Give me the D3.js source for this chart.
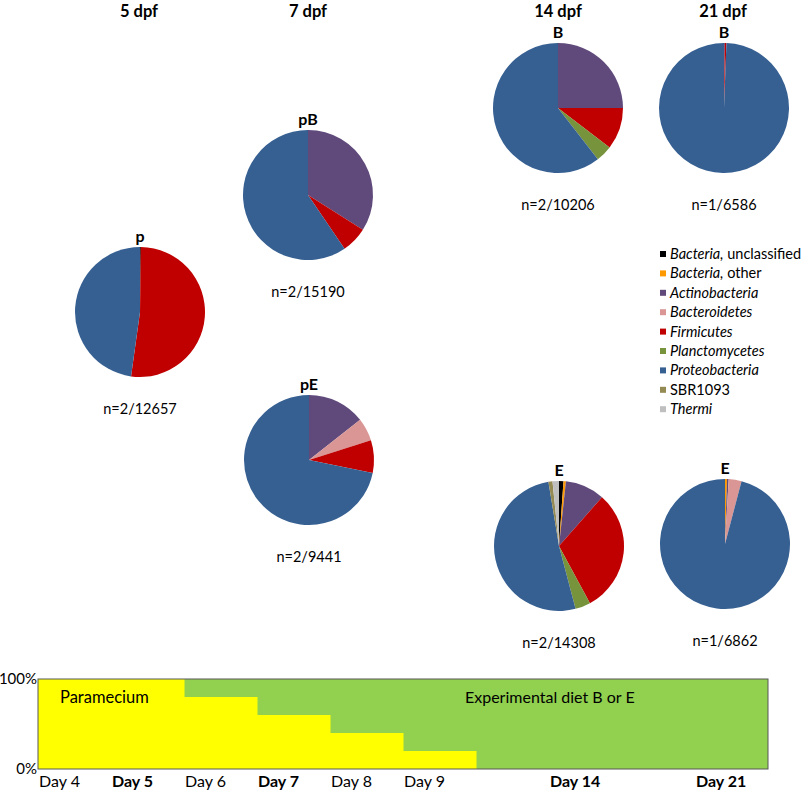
<!DOCTYPE html>
<html>
<head>
<meta charset="utf-8">
<script src="https://cdn.jsdelivr.net/npm/d3@7"></script>
<style>
  body { margin: 0; background: #fff; }
  text { font-family: Lato, "Open Sans", sans-serif; fill: #000; }
</style>
</head>
<body>
<script>
let width = 808
let height = 791

// phyla, in legend order (clockwise in each pie)
let taxa = ['Bacteria, unclassified', 'Bacteria, other', 'Actinobacteria', 'Bacteroidetes',
    'Firmicutes', 'Planctomycetes', 'Proteobacteria', 'SBR1093', 'Thermi']
let taxaColors = ['#000000', '#ff9900', '#604a7b', '#d99694', '#c00000', '#77933c', '#376092', '#948a54', '#bfbfbf']

// percentages per sample, same order as taxa
let sampleNames = ['p', 'pB', 'pE', 'B', 'B', 'E', 'E']
let sampleN = ['n=2/12657', 'n=2/15190', 'n=2/9441', 'n=2/10206', 'n=1/6586', 'n=2/14308', 'n=1/6862']
let p_values = [0.2, 0, 0, 0, 52, 0, 47.8, 0, 0]
let pB_values = [0, 0, 34, 0, 6.5, 0, 59.5, 0, 0]
let pE_values = [0, 0, 14.4, 5.7, 8.1, 0, 71.8, 0, 0]
let B14_values = [0, 0, 25, 0, 10.4, 4.1, 60.5, 0, 0]
let B21_values = [0, 0, 0.2, 0, 0.4, 0, 99.4, 0, 0]
let E14_values = [1.1, 0.6, 9.8, 0, 30.6, 3.8, 51.5, 1.0, 1.6]
let E21_values = [0, 0.5, 0.4, 3.2, 0, 0, 95.9, 0, 0]
let sampleValues = [p_values, pB_values, pE_values, B14_values, B21_values, E14_values, E21_values]
// pie centres on the page
let sampleX = [140, 308, 309, 558, 724, 559, 725]
let sampleY = [312, 195, 460, 108, 108, 546, 544]

let dpfLabels = ['5 dpf', '7 dpf', '14 dpf', '21 dpf']
let dpfX = [139, 308, 558, 723]

// feeding regime
let days = ['Day 4', 'Day 5', 'Day 6', 'Day 7', 'Day 8', 'Day 9', '', 'Day 14', '', 'Day 21']
let boldDays = ['Day 5', 'Day 7', 'Day 14', 'Day 21']
let paramecium = [100, 100, 80, 60, 40, 20, 0, 0, 0, 0]

let svg = d3.select('body').append('svg')
    .attr('width', width)
    .attr('height', height)

let radius = 65
let pie = d3.pie().sort(null).value(d => d)
let arc = d3.arc().innerRadius(0).outerRadius(radius)

svg.selectAll('text.dpf')
    .data(dpfLabels)
    .enter().append('text')
    .attr('class', 'dpf')
    .attr('x', (d, i) => dpfX[i])
    .attr('y', 17)
    .attr('text-anchor', 'middle')
    .style('font-weight', 'bold')
    .style('font-size', '16.5px')
    .text(d => d)

sampleValues.forEach((vals, s) => {
    let g = svg.append('g')
        .attr('transform', `translate(${sampleX[s]},${sampleY[s]})`)
    g.selectAll('path')
        .data(pie(vals))
        .enter().append('path')
        .attr('d', arc)
        .attr('fill', (d, i) => taxaColors[i])
    g.append('text')
        .attr('y', -radius - 5)
        .attr('text-anchor', 'middle')
        .style('font-weight', 'bold')
        .style('font-size', '16px')
        .text(sampleNames[s])
    g.append('text')
        .attr('y', radius + 37)
        .attr('text-anchor', 'middle')
        .style('font-size', '14.5px')
        .text(sampleN[s])
})

// legend
let legend = svg.append('g').attr('transform', 'translate(663,254)')
let items = legend.selectAll('g')
    .data(taxa)
    .enter().append('g')
    .attr('transform', (d, i) => `translate(0,${i * 19.4})`)
items.append('rect')
    .attr('x', -3).attr('y', -3)
    .attr('width', 6).attr('height', 6)
    .attr('fill', (d, i) => taxaColors[i])
items.append('text')
    .attr('x', 7)
    .attr('dy', '0.35em')
    .style('font-size', '14.5px')
    .each(function(d) {
        let t = d3.select(this)
        let parts = d.split(', ')
        if (d == 'SBR1093') {
            t.text(d)
        } else if (parts.length > 1) {
            t.append('tspan').style('font-style', 'italic').text(parts[0] + ',')
            t.append('tspan').text(' ' + parts[1])
        } else {
            t.append('tspan').style('font-style', 'italic').text(d)
        }
    })

// feeding bar chart
let plotLeft = 38, plotRight = 768, plotTop = 679, plotBottom = 769
let x = d3.scaleBand()
    .domain(d3.range(days.length))
    .range([plotLeft, plotRight])
    .padding(0)
let y = d3.scaleLinear()
    .domain([0, 100])
    .range([plotBottom, plotTop])

let chart = svg.append('g')
chart.append('rect')
    .attr('x', plotLeft).attr('y', plotTop)
    .attr('width', plotRight - plotLeft).attr('height', plotBottom - plotTop)
    .attr('fill', '#92d050')
chart.selectAll('rect.par')
    .data(paramecium)
    .enter().append('rect')
    .attr('class', 'par')
    .attr('x', (d, i) => x(i))
    .attr('width', x.bandwidth() + 0.5)
    .attr('y', d => y(d))
    .attr('height', d => y(0) - y(d))
    .attr('fill', '#ffff00')
chart.append('rect')
    .attr('x', plotLeft).attr('y', plotTop)
    .attr('width', plotRight - plotLeft).attr('height', plotBottom - plotTop)
    .attr('fill', 'none')
    .attr('stroke', '#595959')
    .attr('stroke-width', 1)

chart.selectAll('text.pct')
    .data([0, 100])
    .enter().append('text')
    .attr('class', 'pct')
    .attr('x', plotLeft - 1)
    .attr('y', d => y(d))
    .attr('dy', '0.3em')
    .attr('text-anchor', 'end')
    .style('font-size', '15px')
    .text(d => d + '%')

chart.selectAll('text.day')
    .data(days)
    .enter().append('text')
    .attr('class', 'day')
    .attr('x', (d, i) => x(i) + 1)
    .attr('y', 787)
    .style('font-size', '16px')
    .style('font-weight', d => boldDays.includes(d) ? 'bold' : 'normal')
    .text(d => d)

chart.append('text')
    .attr('x', 60).attr('y', 703)
    .style('font-size', '16.5px')
    .text('Paramecium')
chart.append('text')
    .attr('x', 465).attr('y', 703)
    .style('font-size', '16px')
    .text('Experimental diet B or E')
</script>
</body>
</html>
